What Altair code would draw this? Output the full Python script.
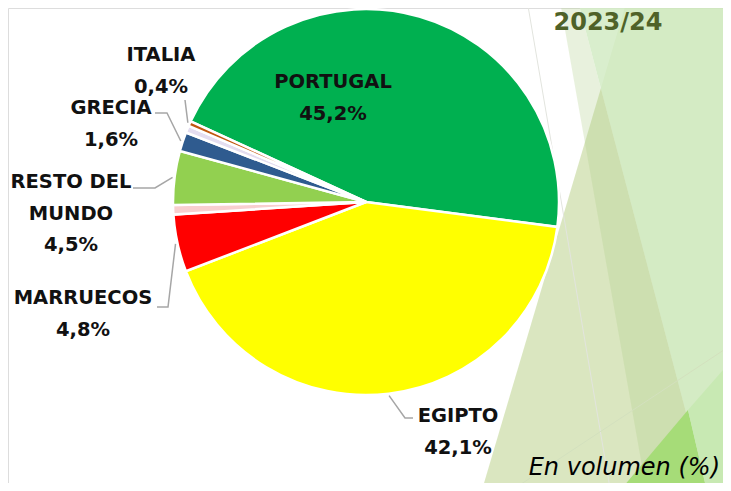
import altair as alt
import pandas as pd
import numpy as np

# ---------------- data ----------------
paises = ["PORTUGAL", "EGIPTO", "MARRUECOS", "Otros (a)", "RESTO DEL MUNDO", "GRECIA", "Otros (b)", "ITALIA"]
cuotas = [45.2, 42.1, 4.8, 0.8, 4.5, 1.6, 0.6, 0.4]
etiquetas = ["PORTUGAL", "EGIPTO", "MARRUECOS", None, "RESTO DEL\nMUNDO", "GRECIA", None, "ITALIA"]
colores = ["#00B050", "#FFFF00", "#FF0000", "#F8CFCF", "#92D050", "#2F5B8F", "#E4DDF0", "#C0580F"]

# ---------------- layout ----------------
W, H = 715, 475
OFF = 8
CX, CY = 366 - OFF, 202 - OFF
R = 193
R_LEAD = 195
START = np.deg2rad(-65.3)
LH = 31.5

# position of the first text line of each label (image coords)
label_pos = {
    "PORTUGAL": (333, 82),
    "EGIPTO": (458, 416),
    "MARRUECOS": (83, 298),
    "RESTO DEL\nMUNDO": (71, 182),
    "GRECIA": (111, 108),
    "ITALIA": (161, 55),
}
leader_pts = {
    "EGIPTO": [(413, 418), (405, 418)],
    "MARRUECOS": [(157, 307), (168, 307)],
    "RESTO DEL\nMUNDO": [(133, 188), (155, 188)],
    "GRECIA": [(155, 113), (167, 113)],
    "ITALIA": [(185, 100)],
}

total = sum(cuotas)
vals = np.array(cuotas)
mid = START + 2 * np.pi * (np.cumsum(vals) - vals / 2) / total

pie_df = pd.DataFrame({"pais": paises, "cuota": cuotas, "orden": range(len(paises))})

lab_rows, lead_rows = [], []
for i, et in enumerate(etiquetas):
    if et is None:
        continue
    txt = et + "\n" + f"{cuotas[i]:.1f}".replace(".", ",") + "%"
    lx, ly = label_pos[et]
    lab_rows.append({"x": lx - OFF, "y": ly - OFF, "t": txt})
    if et in leader_pts:
        pts = [(px - OFF, py - OFF) for px, py in leader_pts[et]]
        pts.append((CX + R_LEAD * np.sin(mid[i]), CY - R_LEAD * np.cos(mid[i])))
        for k, (px, py) in enumerate(pts):
            lead_rows.append({"id": paises[i], "k": k, "x": px, "y": py})
lab_df = pd.DataFrame(lab_rows)
lead_df = pd.DataFrame(lead_rows)

xs = alt.Scale(domain=[0, W], nice=False, zero=False)
ys = alt.Scale(domain=[0, H], nice=False, zero=False, reverse=True)

# ---------------- decorative background (slide theme) ----------------
def poly(pts, fill, op):
    return {"type": "Feature", "properties": {"fill": fill, "op": op},
            "geometry": {"type": "Polygon",
                         "coordinates": [[[x - OFF, y - OFF] for x, y in pts] + [[pts[0][0] - OFF, pts[0][1] - OFF]]]}}

def line(pts, stroke):
    return {"type": "Feature", "properties": {"stroke": stroke},
            "geometry": {"type": "LineString", "coordinates": [[x - OFF, y - OFF] for x, y in pts]}}

decor = [
    poly([(630, -10), (745, -10), (745, 500), (479, 500)], "#95B84A", 0.35),
    poly([(558, -10), (575, -10), (709, 500), (648, 500)], "#B0CF8A", 0.29),
    poly([(575, -10), (745, -10), (745, 500), (709, 500)], "#D2EBC4", 0.85),
    poly([(612, 500), (688, 410), (709, 500)], "#A6DC78", 1.0),
    poly([(688, 410), (745, 345), (745, 500), (709, 500)], "#C8E9B3", 1.0),
]
decor_lines = [
    line([(527, 0), (612, 500)], "#E2E4DE"),
    line([(500, 498), (745, 336)], "#D3E0BE"),
]

deco = alt.Chart(alt.Data(values=decor)).mark_geoshape(strokeWidth=0).encode(
    fill=alt.Fill("properties.fill:N", scale=None),
    opacity=alt.Opacity("properties.op:Q", scale=None),
).project(type="identity", scale=1, translate=[0, 0])

deco_l = alt.Chart(alt.Data(values=decor_lines)).mark_geoshape(filled=False, strokeWidth=1).encode(
    stroke=alt.Stroke("properties.stroke:N", scale=None),
).project(type="identity", scale=1, translate=[0, 0])

# ---------------- pie ----------------
pie = alt.Chart(pie_df).mark_arc(outerRadius=R, stroke="white", strokeWidth=2.5).encode(
    theta=alt.Theta("cuota:Q", stack=True,
                    scale=alt.Scale(domain=[0, total], range=[START, START + 2 * np.pi])),
    color=alt.Color("pais:N", scale=alt.Scale(domain=paises, range=colores), legend=None),
    order=alt.Order("orden:Q"),
    x=alt.value(CX),
    y=alt.value(CY),
)

leaders = alt.Chart(lead_df).mark_line(color="#A6A6A6", strokeWidth=1.5).encode(
    x=alt.X("x:Q", scale=xs, axis=None),
    y=alt.Y("y:Q", scale=ys, axis=None),
    detail="id:N",
    order="k:Q",
)

labels = alt.Chart(lab_df).mark_text(
    font="DejaVu Sans", fontSize=19.5, fontWeight="bold", color="#111111",
    lineBreak="\n", lineHeight=LH, align="center", baseline="middle",
).encode(
    x=alt.X("x:Q", scale=xs, axis=None),
    y=alt.Y("y:Q", scale=ys, axis=None),
    text="t:N",
)

title = alt.Chart(pd.DataFrame({"t": ["2023/24"]})).mark_text(
    font="DejaVu Sans", fontSize=24, fontWeight="bold", color="#4F6228",
    align="center", baseline="middle",
).encode(x=alt.value(608 - OFF), y=alt.value(23 - OFF), text="t:N")

note = alt.Chart(pd.DataFrame({"t": ["En volumen (%)"]})).mark_text(
    font="DejaVu Sans", fontSize=24, fontStyle="italic", color="#000000",
    align="right", baseline="middle",
).encode(x=alt.value(720 - OFF), y=alt.value(468 - OFF), text="t:N")

chart = alt.layer(deco, deco_l, pie, leaders, labels, title, note).properties(
    width=W, height=H, padding=0,
    autosize=alt.AutoSizeParams(type="none"),
).configure_view(stroke=None).configure(background="white")

chart.save("out.html", embed_options={"renderer": "svg", "actions": False})
